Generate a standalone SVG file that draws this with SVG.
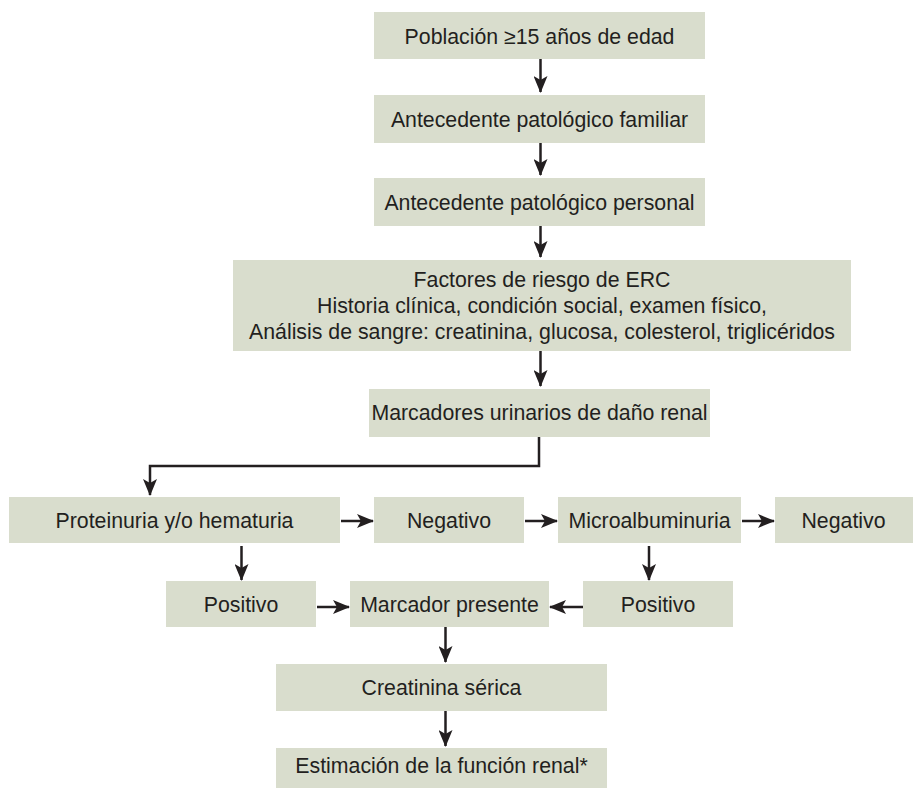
<svg xmlns="http://www.w3.org/2000/svg" width="913" height="789" viewBox="0 0 913 789">
<style>
.box{fill:#d9ddcd;}
text{font-family:"Liberation Sans",Arial,sans-serif;font-size:21.3px;fill:#231f20;text-anchor:middle;}
.c{stroke:#231f20;stroke-width:2.5;fill:none;}
</style>
<defs>
<marker id="ah" markerUnits="userSpaceOnUse" markerWidth="17" markerHeight="14" viewBox="0 0 17 14" refX="16" refY="7" orient="auto">
<path d="M0,0 L17,7 L0,14 L4,7 z" fill="#231f20"/>
</marker>
</defs>
<rect width="913" height="789" fill="#fff"/>
<g id="n1"><rect class="box" x="374" y="12" width="331" height="47"/><text x="539.5" y="44">Población ≥15 años de edad</text></g>
<g id="n2"><rect class="box" x="374" y="95" width="331" height="48"/><text x="539.5" y="127">Antecedente patológico familiar</text></g>
<g id="n3"><rect class="box" x="374" y="178" width="331" height="48"/><text x="539.5" y="210">Antecedente patológico personal</text></g>
<g id="n4"><rect class="box" x="233" y="260" width="618" height="91"/>
<text x="542" y="287">Factores de riesgo de ERC</text>
<text x="542" y="313">Historia clínica, condición social, examen físico,</text>
<text x="542" y="339">Análisis de sangre: creatinina, glucosa, colesterol, triglicéridos</text></g>
<g id="n5"><rect class="box" x="369" y="389" width="341" height="48"/><text x="539.5" y="420">Marcadores urinarios de daño renal</text></g>
<g id="n6"><rect class="box" x="9" y="497" width="331" height="46"/><text x="174.5" y="528">Proteinuria y/o hematuria</text></g>
<g id="n7"><rect class="box" x="374" y="497" width="150" height="46"/><text x="449" y="528">Negativo</text></g>
<g id="n8"><rect class="box" x="558" y="497" width="183" height="46"/><text x="649.5" y="528">Microalbuminuria</text></g>
<g id="n9"><rect class="box" x="775" y="497" width="138" height="46"/><text x="843.5" y="528">Negativo</text></g>
<g id="n10"><rect class="box" x="166" y="581" width="150" height="46"/><text x="241" y="612">Positivo</text></g>
<g id="n11"><rect class="box" x="350" y="581" width="199" height="46"/><text x="449.5" y="612">Marcador presente</text></g>
<g id="n12"><rect class="box" x="583" y="581" width="150" height="46"/><text x="658" y="612">Positivo</text></g>
<g id="n13"><rect class="box" x="276" y="664" width="331" height="47"/><text x="441.5" y="695">Creatinina sérica</text></g>
<g id="n14"><rect class="box" x="276" y="748" width="331" height="40"/><text x="441.5" y="773">Estimación de la función renal*</text></g>
<g id="connectors">
<path class="c" d="M540.5,59 V92" marker-end="url(#ah)"/>
<path class="c" d="M540.5,143 V175" marker-end="url(#ah)"/>
<path class="c" d="M540.5,226 V257" marker-end="url(#ah)"/>
<path class="c" d="M540.5,351 V386" marker-end="url(#ah)"/>
<path class="c" d="M539,437 V466 H150 V495" marker-end="url(#ah)"/>
<path class="c" d="M341,521 H373" marker-end="url(#ah)"/>
<path class="c" d="M525,521 H557" marker-end="url(#ah)"/>
<path class="c" d="M742,521 H774" marker-end="url(#ah)"/>
<path class="c" d="M241.5,546 V580" marker-end="url(#ah)"/>
<path class="c" d="M649,546 V580" marker-end="url(#ah)"/>
<path class="c" d="M317,607 H349" marker-end="url(#ah)"/>
<path class="c" d="M583,607 H550" marker-end="url(#ah)"/>
<path class="c" d="M445.5,627 V662" marker-end="url(#ah)"/>
<path class="c" d="M445.5,711 V746" marker-end="url(#ah)"/>
</g>
</svg>
